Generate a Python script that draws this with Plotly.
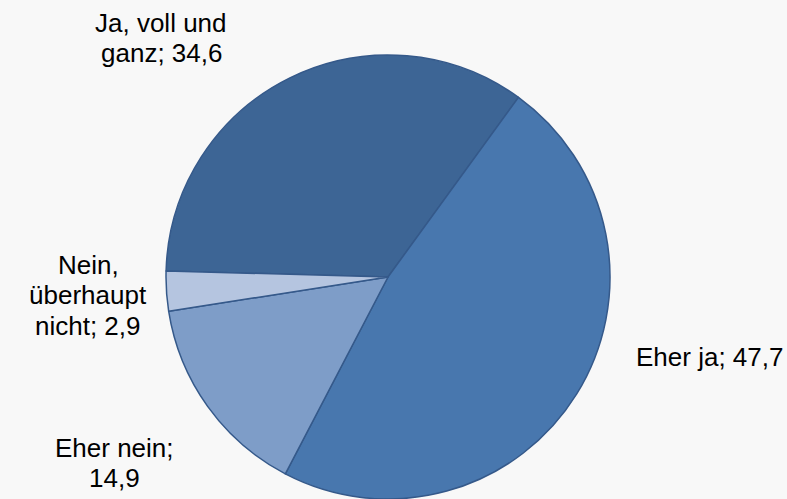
import plotly.graph_objects as go

# Data
labels = ["Ja, voll und ganz", "Eher ja", "Eher nein", "Nein, überhaupt nicht"]
values = [34.6, 47.7, 14.9, 2.9]
# label text as shown (line breaks)
label_lines = [["Ja, voll und", "ganz"], ["Eher ja"], ["Eher nein;", ""], ["Nein,", "überhaupt", "nicht"]]

colors = ["#3D6595", "#4877AE", "#7E9DC8", "#B5C5E0"]
label_pos = [(161, 38), (709, 357), (114, 463), (88, 295)]  # px centers of label blocks
LINE_H = 30.5
FONT_SIZE = 26

W, H = 787, 499
cx, cy, r = 388, 277, 222


def fmt(v):
    return f"{v:.1f}".replace(".", ",")


def label_rows(lines, v):
    if lines[-1] == "":
        return lines[:-1] + [fmt(v)]
    return lines[:-1] + [lines[-1] + "; " + fmt(v)]


fig = go.Figure(go.Pie(
    labels=labels,
    values=values,
    sort=False,
    direction="clockwise",
    rotation=36 - 360 * values[0] / sum(values),
    marker=dict(colors=colors, line=dict(color="#35598A", width=1.5)),
    textinfo="none",
    hoverinfo="label+value",
    showlegend=False,
    domain=dict(x=[(cx - r) / W, (cx + r) / W], y=[1 - (cy + r) / H, 1 - (cy - r) / H]),
))

for lines, v, (px, py) in zip(label_lines, values, label_pos):
    rows = label_rows(lines, v)
    n = len(rows)
    for i, row in enumerate(rows):
        ly = py + (i - (n - 1) / 2) * LINE_H
        fig.add_annotation(
            x=px / W, y=1 - ly / H, xref="paper", yref="paper",
            text=row, showarrow=False,
            xanchor="center", yanchor="middle", align="center",
            font=dict(family="Liberation Sans, Arial, sans-serif", size=FONT_SIZE, color="#000000"),
        )

fig.update_layout(
    width=W, height=H, autosize=False,
    margin=dict(l=0, r=0, t=0, b=0),
    paper_bgcolor="#F8F8F8", plot_bgcolor="#F8F8F8",
)

fig.write_html("out.html")
